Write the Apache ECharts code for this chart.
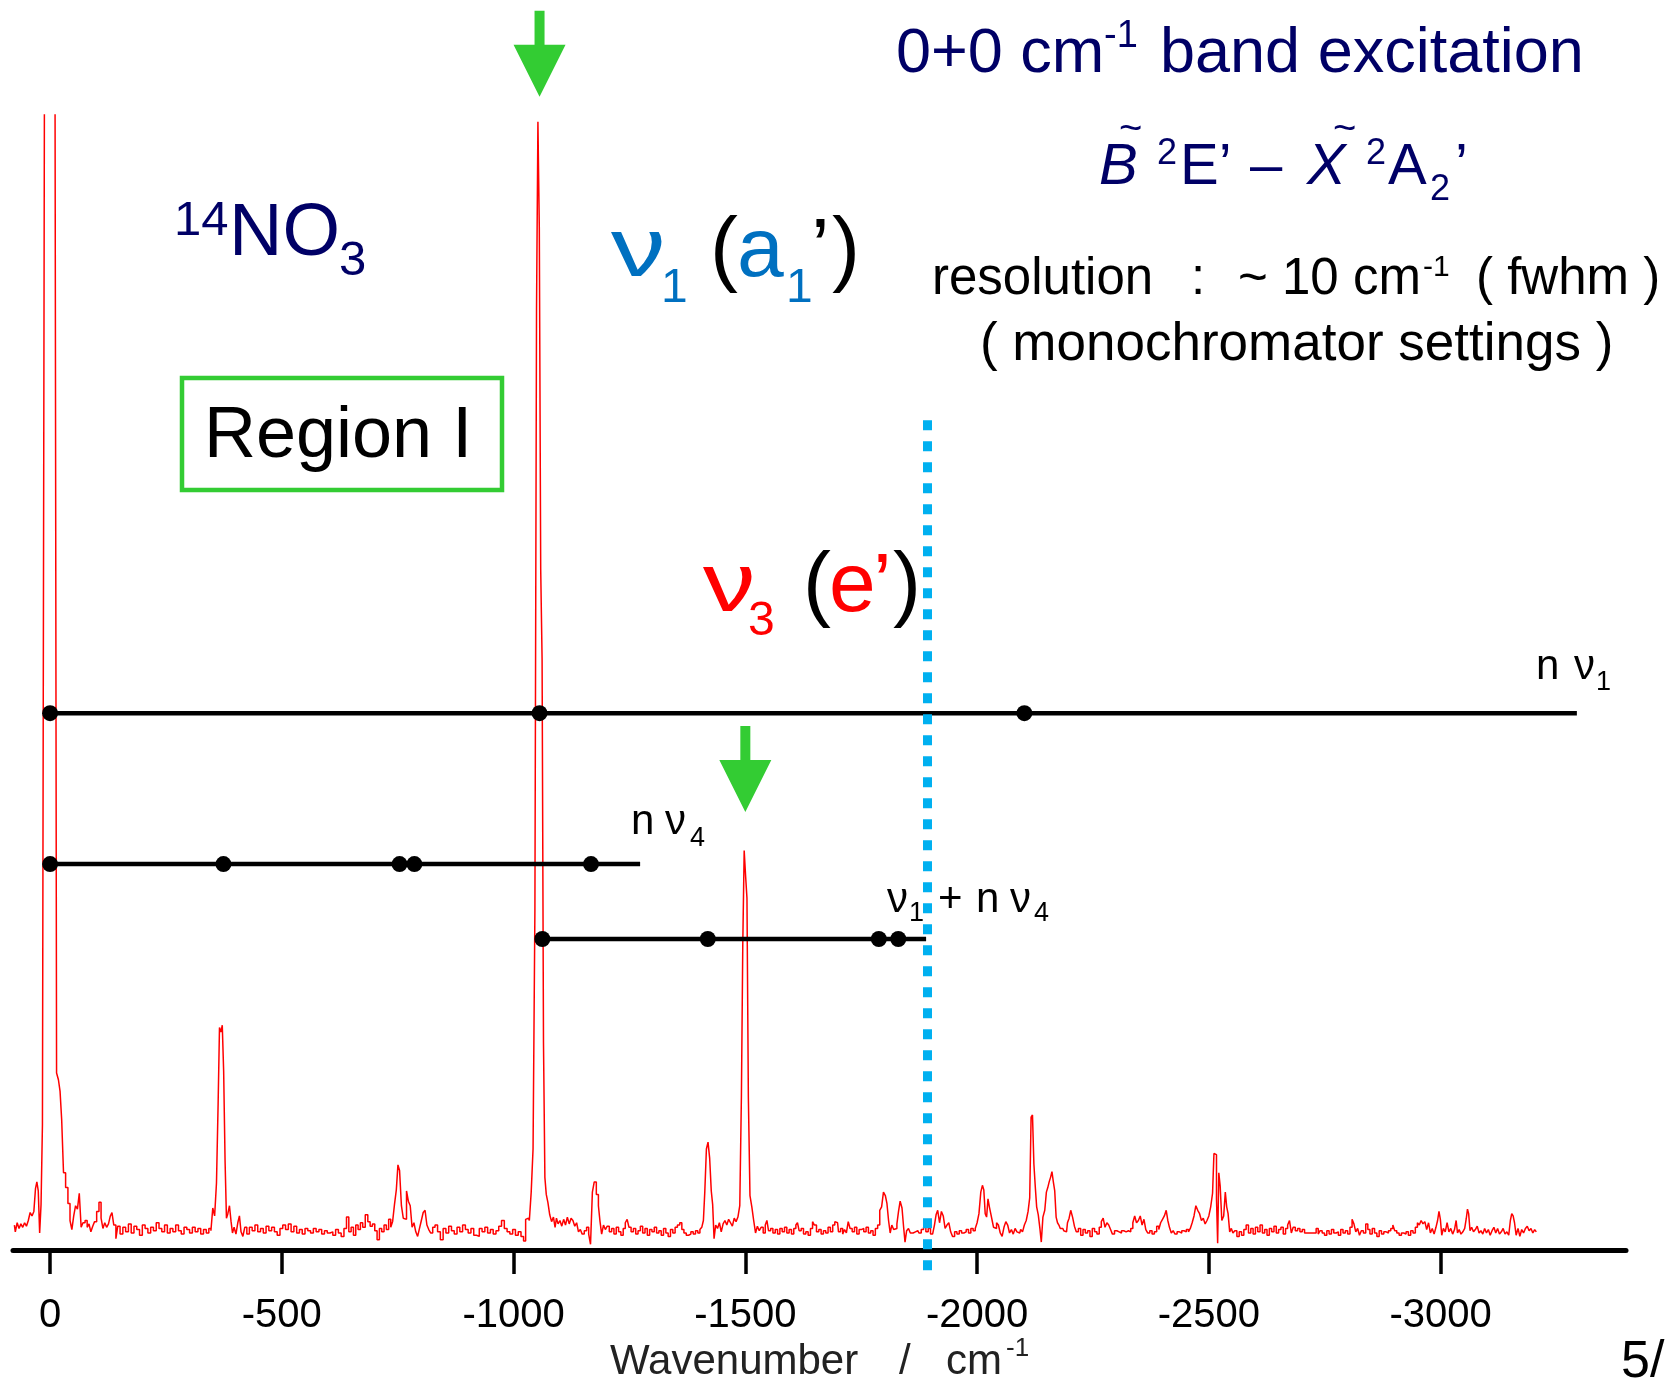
<!DOCTYPE html>
<html>
<head>
<meta charset="utf-8">
<title>NO3 dispersed fluorescence</title>
<script src="https://cdn.jsdelivr.net/npm/echarts@6/dist/echarts.min.js"></script>
<style>
  html, body { margin: 0; padding: 0; background: #fff; }
  #chart { width: 1668px; height: 1384px; }
</style>
</head>
<body>
<div id="chart"></div>
<script>
var FONT = '"Liberation Sans", Arial, sans-serif'
var NAVY = '#000066', BLUE = '#0070c0', RED = '#ff0000', GREEN = '#33cc33', CYAN = '#00b0f0'

// axis ticks (cm-1)
var tickValues = [0, -500, -1000, -1500, -2000, -2500, -3000]

// spectrum, [wavenumber, intensity]
var specOrigin = [[77,2.2],[73,1.6],[69,2.4],[65,1.9],[61,2.3],[57,2.0],[53,2.4],[49,2.1],[45,2.6],[41,3.3],[37,3.0],[33,3.4],[30,5.4],[27,6.0],[24,5.2],[21,1.5],[18,4.0],[15,11.0],[12,74],[8,150],[4,170],[0,175],[-4,170],[-8,150],[-12,120],[-16,15.6],[-20,15.0],[-23,14.0],[-27,11.5],[-31,6.8],[-36,5.5],[-41,4.1],[-45,2.6],[-49,1.8],[-53,3.0],[-57,3.9],[-61,3.6],[-65,5.0],[-69,2.0],[-73,2.4],[-78,2.6],[-82,2.0],[-86,2.3],[-90,1.6],[-94,2.1],[-98,2.5],[-103,3.4],[-108,4.2],[-112,2.8],[-116,1.9],[-120,2.4],[-124,2.0],[-128,2.3],[-132,3.0],[-135,3.3],[-140,2.2],[-144,1.0],[-148,2.1]]
var specLow = [[-154,1.4],[-160,2.0],[-166,1.6],[-172,2.3],[-178,1.5],[-184,2.1],[-190,1.8],[-196,1.3],[-202,2.2],[-208,1.9],[-214,1.5],[-220,2.0],[-226,1.7],[-232,2.4],[-238,1.9],[-244,1.6],[-250,2.2],[-256,1.5],[-262,1.9],[-268,1.6],[-274,2.2],[-280,1.7],[-286,1.4],[-292,2.0],[-298,1.8],[-304,1.5],[-310,2.0],[-316,1.6],[-322,1.9],[-328,1.4],[-334,1.8],[-340,1.5],[-345,1.9],
  [-349,1.7],[-353,3.7],[-357,3.0],[-361,5.9],[-364,12.8],[-367,19.6],[-370,19.2],[-373,19.8],[-376,15.7],[-379,7.9],[-382,2.8],[-385,3.2],[-389,3.9],[-392,2.5],[-395,1.5],[-399,2.0],[-403,1.4],[-407,2.4],[-410,3.0],[-414,1.6],[-418,1.2],[-422,2.0],
  [-427,1.4],[-433,2.0],[-439,1.7],[-445,2.2],[-451,1.6],[-457,1.9],[-463,1.5],[-469,2.1],[-475,1.7],[-481,2.0],[-487,1.6],[-493,1.3],[-499,1.9],[-505,2.2],[-511,1.8],[-517,2.3],[-523,1.6],[-529,2.1],[-535,1.5],[-541,1.8],[-547,1.4],[-553,1.9],[-559,1.7],[-565,1.5],[-571,1.9],[-577,1.6],[-583,1.8],[-589,1.4],[-595,1.7],[-601,1.5],[-607,1.6],[-613,1.3],[-619,1.8],[-625,1.5],[-631,1.2],[-637,1.9]]
var specMid = [[-642,2.9],[-647,1.6],[-652,2.0],[-657,1.3],[-662,2.2],[-667,1.8],[-672,2.4],[-677,2.0],[-683,3.1],[-688,2.5],[-693,2.1],[-698,2.3],[-703,1.7],[-708,0.9],[-713,1.9],[-718,1.6],[-723,2.2],[-728,1.8],[-733,2.7],[-737,2.0],[-741,2.5],[-745,4.0],[-749,5.3],[-752,7.5],[-756,7.0],[-760,3.9],[-764,2.8],[-767,2.7],[-771,5.2],[-775,4.3],[-779,3.9],[-783,2.0],[-787,2.4],[-791,1.6],[-795,1.2],[-799,1.9],[-803,2.6],[-807,3.3],[-811,3.5],[-815,2.2],[-819,1.8],[-823,1.5],[-828,2.0],
  [-833,2.2],[-839,1.6],[-845,0.9],[-851,1.9],[-857,1.5],[-863,2.1],[-869,1.7],[-875,1.4],[-881,2.0],[-887,1.6],[-893,2.2],[-899,1.8],[-905,1.5],[-911,1.9],[-917,1.3],[-923,1.2],[-929,1.9],[-935,1.6],[-941,2.0],[-947,1.5],[-953,1.8],[-959,1.4],[-965,1.7],[-971,2.1],[-977,2.6],[-983,1.9],[-989,1.6],[-995,1.4],[-1001,1.8],[-1007,1.3],[-1013,1.6],[-1019,1.2],[-1024,0.8]]
var specNu1 = [[-1028,2.7],[-1032,2.8],[-1036,2.6],[-1040,5.1],[-1044,8.9],[-1048,30],[-1051,83],[-1054,99.4],[-1057,90],[-1060,60],[-1063,52],[-1066,18.3],[-1069,6.4],[-1072,4.9],[-1076,4.2],[-1080,3.1],[-1084,2.5],[-1088,2.9],[-1091,2.0],[-1094,2.8],[-1098,2.3],[-1102,2.6],[-1106,2.1],[-1110,2.7],[-1114,2.2],[-1118,2.9],[-1122,2.3],[-1126,2.8],[-1130,2.6],[-1134,2.1],[-1138,2.4],[-1142,1.6],[-1146,1.8],[-1150,1.4],[-1155,1.7],[-1160,2.0],[-1164,1.4],[-1168,0.5],[-1172,5.1],[-1176,6.0],[-1181,4.9],[-1185,3.9],[-1188,2.5],[-1192,1.4],[-1196,2.2],[-1200,1.8],[-1204,2.1],[-1209,1.6],[-1214,1.9],[-1219,1.4],[-1224,2.0],[-1229,1.6],[-1234,1.3],[-1239,1.9],[-1243,2.4],[-1247,2.7],[-1251,2.0],[-1256,1.6],[-1261,1.9],[-1266,1.4],
  [-1271,1.7],[-1276,2.1],[-1281,1.5],[-1286,1.9],[-1291,1.3],[-1296,1.8],[-1301,1.6],[-1306,2.0],[-1311,1.5],[-1316,1.7],[-1321,1.3],[-1326,1.9],[-1331,1.5],[-1336,1.2],[-1341,1.8],[-1346,1.5],[-1351,2.0],[-1356,2.2],[-1361,2.4],[-1365,1.8],[-1370,1.5],[-1375,1.3],[-1380,1.4],[-1385,1.6],[-1390,1.4],[-1395,1.7],[-1400,1.5],[-1404,1.8],[-1408,2.0],[-1411,2.6],[-1414,5.1],[-1418,8.9],[-1421,9.5],[-1425,8.1],[-1428,5.2],[-1431,4.0],[-1434,1.0],[-1438,2.2],[-1442,1.9],[-1446,2.4],[-1450,1.6],[-1454,2.3],[-1458,2.6],[-1462,2.2],[-1466,2.7],[-1470,2.4],[-1474,2.1],[-1478,2.8],[-1482,2.5],[-1486,2.9]]
var specNu3 = [[-1490,3.9],[-1493,13.5],[-1496,27],[-1499,35.2],[-1502,33],[-1505,31],[-1508,13.5],[-1512,4.8],[-1516,3.8],[-1520,2.6],[-1524,1.5],[-1528,2.1],[-1532,1.7],[-1536,2.0],[-1541,1.5],[-1545,2.2],[-1548,2.6],[-1552,1.7],[-1557,1.9],[-1562,1.5],[-1567,1.8],[-1572,1.4],[-1577,1.9],[-1582,1.6],[-1587,2.0],[-1592,1.5],[-1597,1.8],[-1602,1.4],[-1607,1.9],[-1611,2.2],[-1614,2.4],[-1618,1.7],[-1623,1.9],[-1628,1.4],[-1633,1.6],[-1638,1.3],[-1643,1.9],[-1647,2.5],[-1651,2.2],[-1656,1.6],[-1661,1.8],[-1666,1.4],[-1671,1.7],[-1676,1.5],[-1681,2.0],[-1686,1.6],[-1691,2.2],[-1695,2.5],[-1699,2.4],[-1703,1.6],[-1708,1.9],[-1712,1.4],[-1716,1.8],[-1720,1.5],[-1724,2.5],[-1728,1.9],[-1733,1.6],[-1738,2.0],[-1743,1.4],[-1748,1.8],[-1753,1.9],[-1758,1.6],[-1763,2.0],[-1768,1.5],[-1773,1.7],[-1778,1.3],[-1783,1.9],[-1788,2.2],[-1792,3.5],[-1796,3.8],[-1800,5.1],[-1804,4.8],[-1807,4.1],[-1811,2.6],[-1814,1.5],[-1818,2.2],[-1822,1.8],[-1825,1.9],[-1829,2.3],[-1832,3.4],[-1836,4.3],[-1840,3.7],[-1843,2.0],[-1846,0.7],[-1850,1.7],[-1854,1.9],[-1858,1.5],[-1862,1.5],[-1867,1.6],[-1872,1.7],[-1877,1.5],[-1882,1.8],[-1887,2.0],[-1892,1.6],[-1897,1.9],[-1902,1.4],[-1906,1.3],[-1910,2.2],[-1913,3.1],[-1917,3.5],[-1921,2.4],[-1925,3.4],[-1929,3.0],[-1933,1.9],[-1937,2.2],[-1941,2.4],[-1945,1.6],[-1949,1.2],[-1954,1.6],[-1959,1.4],[-1964,1.7],[-1969,1.5],[-1974,1.6],[-1979,1.8],[-1984,1.5],[-1989,1.9],[-1994,1.7],[-1998,1.9]]
var specHigh = [[-2002,2.4],[-2006,3.2],[-2010,5.1],[-2013,5.7],[-2016,5.3],[-2019,3.2],[-2022,2.9],[-2025,4.5],[-2028,3.8],[-2031,3.2],[-2034,2.6],[-2037,2.0],[-2040,1.9],[-2044,2.4],[-2048,2.2],[-2052,1.5],[-2056,1.2],[-2060,2.0],[-2064,2.5],[-2068,2.2],[-2072,1.5],[-2076,1.8],[-2080,1.4],[-2084,1.9],[-2088,1.6],[-2092,1.5],[-2096,1.8],[-2100,1.6],[-2104,2.2],[-2108,2.6],[-2112,3.4],[-2115,4.6],[-2118,11.7],[-2121,11.9],[-2124,7.6],[-2127,5.6],[-2130,3.8],[-2134,3.1],[-2137,1.9],[-2140,0.7],[-2144,2.9],[-2148,3.5],[-2151,5.1],[-2154,5.5],[-2157,6.0],[-2160,6.4],[-2163,6.9],[-2166,6.0],[-2169,5.2],[-2172,2.9],[-2175,2.4],[-2178,2.2],[-2181,1.9],[-2185,1.9],[-2189,1.7],[-2193,1.6],[-2197,2.4],[-2200,2.8],[-2204,3.5],[-2208,2.9],[-2212,2.1],[-2216,1.6],[-2221,1.9],[-2226,1.3],[-2231,1.8],[-2236,1.5],[-2241,1.7],[-2246,1.2],[-2251,1.9],[-2256,1.6],[-2261,1.4],[-2266,2.0],[-2270,2.5],[-2274,2.8],[-2278,2.0],[-2282,2.4],[-2286,2.2],[-2290,1.8],[-2294,1.4],[-2299,1.7],[-2304,1.6],[-2309,1.5],[-2314,1.7],[-2319,1.6],[-2324,1.7],[-2329,1.6],[-2334,1.9],[-2338,2.4],[-2342,3.0],[-2346,2.4],[-2350,2.6],[-2354,3.0],[-2358,2.2],[-2362,2.7],[-2366,1.8],[-2370,1.5],[-2375,1.7],[-2380,1.4],[-2385,1.6],[-2390,2.1],[-2394,1.8],[-2398,2.4],[-2402,2.7],[-2406,3.0],[-2410,3.5],[-2413,2.6],[-2417,2.0],[-2421,1.5],[-2425,1.7],[-2429,1.4],[-2434,1.6],[-2439,1.5],[-2444,1.7],[-2449,1.6],[-2454,1.8],[-2458,1.6],[-2462,1.9],[-2466,2.4],[-2470,3.0],[-2474,3.9],[-2478,3.5],[-2482,3.2],[-2486,2.6],[-2490,2.8],[-2494,2.3],[-2498,2.6],[-2502,3.0],[-2506,3.8],[-2510,5.0],[-2512,8.5],[-2515,8.4],[-2518,4.5],[-2520,0.6],[-2523,6.8],[-2526,5.6],[-2530,2.6],[-2534,3.0],[-2537,5.1],[-2540,3.8],[-2543,3.2],[-2547,1.6],[-2550,1.9],[-2554,1.5],[-2558,1.7],[-2563,1.2],[-2568,1.6],[-2573,1.3],[-2578,1.8],[-2583,2.2]]
var specTail = [[-2588,1.5],[-2593,1.9],[-2598,1.4],[-2603,2.0],[-2608,1.6],[-2613,2.2],[-2618,1.5],[-2623,1.8],[-2628,1.3],[-2633,1.9],[-2638,1.6],[-2643,2.1],[-2648,1.5],[-2653,1.8],[-2658,2.0],[-2663,1.4],[-2668,1.9],[-2672,2.2],[-2676,2.6],[-2680,1.5],[-2684,2.0],[-2689,1.7],[-2694,1.9],[-2699,1.6],[-2704,1.8],[-2709,1.5],[-2714,1.5],[-2719,1.5],[-2724,1.5],[-2729,1.5],[-2734,1.9],[-2738,1.4],[-2742,1.7],[-2747,1.5],[-2752,1.3],[-2757,1.7],[-2762,1.4],[-2767,1.8],[-2772,1.5],[-2777,1.6],[-2782,1.3],[-2787,1.8],[-2792,1.5],[-2797,1.7],[-2802,1.4],[-2807,2.0],[-2811,2.7],[-2815,2.3],[-2819,1.6],[-2823,1.9],[-2827,1.3],[-2831,1.7],[-2836,1.5],[-2841,2.3],[-2845,1.8],[-2850,1.4],[-2855,1.9],[-2860,1.5],[-2865,1.2],[-2870,1.7],[-2875,1.4],[-2880,1.6],[-2885,1.5],[-2890,1.7],[-2895,1.9],[-2899,2.2],[-2903,1.7],[-2908,1.5],[-2913,1.3],[-2918,1.5],[-2923,1.4],[-2928,1.6],[-2933,1.3],[-2938,1.7],[-2943,1.5],[-2948,2.0],[-2952,2.4],[-2956,2.2],[-2960,2.6],[-2964,2.3],[-2968,2.5],[-2972,1.8],[-2976,2.4],[-2980,1.5],[-2984,1.9],[-2988,1.4],[-2992,2.0],[-2995,2.6],[-2998,3.4],[-3001,2.7],[-3004,1.3],[-3008,1.9],[-3012,1.6],[-3016,2.4],[-3020,1.6],[-3024,1.9],[-3028,1.4],[-3032,1.8],[-3035,2.6],[-3038,1.5],[-3042,1.8],[-3046,1.4],[-3050,1.6],[-3054,1.9],[-3057,2.8],[-3059,3.6],[-3062,3.2],[-3065,1.7],[-3069,2.0],[-3073,1.6],[-3077,1.8],[-3081,2.1],[-3085,1.5],[-3089,1.7],[-3093,1.4],[-3097,1.9],[-3101,1.5],[-3105,1.8],[-3109,1.3],[-3113,1.7],[-3117,2.0],[-3121,1.5],[-3125,1.9],[-3129,1.4],[-3133,1.6],[-3137,1.9],[-3141,1.4],[-3145,1.6],[-3149,1.3],[-3152,2.6],[-3155,3.2],[-3158,3.0],[-3161,2.4],[-3165,1.3],[-3169,1.9],[-3173,1.2],[-3177,1.8],[-3181,1.5],[-3185,1.9],[-3189,2.1],[-3193,1.7],[-3197,1.9],[-3201,1.5],[-3205,1.8],[-3208,1.6]]

var spectrum = [].concat(specOrigin, specLow, specMid, specNu1, specNu3, specHigh, specTail)

// vibrational progressions: dot positions, end of the bar, height on the intensity scale
var nu1Dots = [0, -1056, -2102], nu1End = -3294, nu1Level = 47.3
var nu4Dots = [0, -374, -754, -786, -1167], nu4End = -1273, nu4Level = 34.0
var comboDots = [-1062, -1419, -1788, -1830], comboEnd = -1890, comboLevel = 27.4

// excitation energy limit (dotted line) and the two arrows
var limitWave = -1893, limitSpan = [73.1, -2.2]
var arrowWaves = [-1056, -1500], arrowTips = [101.6, 38.6]

function progression(dots, end, level) {
  var data = dots.map(function (w) { return [w, level] })
  data.push({ value: [end, level], symbol: 'none' })
  return {
    type: 'line', data: data, symbol: 'circle', symbolSize: 16,
    lineStyle: { color: '#000', width: 4.5 }, itemStyle: { color: '#000' },
    z: 4, silent: true
  }
}

// text placed by its baseline
function txt(s, x, base, size, color, italic, sx) {
  return {
    type: 'text', x: x, y: base - size * 0.3465, z: 10, silent: true,
    scaleX: sx || 1,
    style: {
      text: s, fill: color || '#000',
      font: (italic ? 'italic ' : '') + size + 'px ' + FONT,
      align: 'left', verticalAlign: 'middle', textAlign: 'left', textVerticalAlign: 'middle'
    }
  }
}

var chart = echarts.init(document.getElementById('chart'))

var option = {
  animation: false,
  backgroundColor: '#fff',
  grid: { left: 13, right: 42, top: 115, bottom: 134, containLabel: false },
  xAxis: {
    type: 'value', min: -3400, max: 80, inverse: true,
    axisLine: { show: true, onZero: false, lineStyle: { color: '#000', width: 5 } },
    axisTick: { show: true, customValues: tickValues, length: 24, lineStyle: { color: '#000', width: 3.5 } },
    axisLabel: {
      show: true, customValues: tickValues, margin: 46, fontSize: 40, color: '#000', fontFamily: FONT,
      formatter: function (v) { return String(v) }
    },
    splitLine: { show: false }
  },
  yAxis: { type: 'value', min: 0, max: 100, show: false },
  series: [
    {
      type: 'line', data: spectrum, step: 'middle', showSymbol: false, symbol: 'none',
      lineStyle: { color: RED, width: 1.5 }, clip: true, z: 2, silent: true
    },
    {
      type: 'line', data: [[limitWave, limitSpan[0]], [limitWave, limitSpan[1]]],
      symbol: 'none', clip: false, z: 6, silent: true,
      lineStyle: { color: CYAN, width: 9, type: [10, 11], cap: 'butt' }
    },
    progression(nu1Dots, nu1End, nu1Level),
    progression(nu4Dots, nu4End, nu4Level),
    progression(comboDots, comboEnd, comboLevel)
  ]
}
chart.setOption(option)

var graphics = []

arrowWaves.forEach(function (w, i) {
  var p = chart.convertToPixel({ gridIndex: 0 }, [w, arrowTips[i]])
  var tx = p[0], ty = p[1]
  graphics.push({
    type: 'polygon', z: 8, silent: true,
    shape: { points: [[tx - 5, ty - 86], [tx + 5, ty - 86], [tx + 5, ty - 52], [tx + 26, ty - 52], [tx, ty], [tx - 26, ty - 52], [tx - 5, ty - 52]] },
    style: { fill: GREEN }
  })
})

graphics.push({
  type: 'rect', z: 8, silent: true,
  shape: { x: 182, y: 378, width: 320, height: 112 },
  style: { fill: 'transparent', stroke: GREEN, lineWidth: 4.5 }
})

graphics.push(
  // title block
  txt('0+0 cm', 896, 76, 63, NAVY), txt('-1', 1104, 50, 38, NAVY), txt('band excitation', 1160, 76, 63, NAVY),
  txt('~', 1119, 144, 40, NAVY), txt('B', 1099, 188, 58, NAVY, true), txt('2', 1157, 167, 36, NAVY),
  txt('E\u2019', 1180, 188, 58, NAVY), txt('\u2013', 1250, 188, 58, NAVY),
  txt('~', 1333, 144, 40, NAVY), txt('X', 1307, 188, 58, NAVY, true), txt('2', 1366, 167, 36, NAVY),
  txt('A', 1388, 188, 58, NAVY), txt('2', 1430, 203, 36, NAVY), txt('\u2019', 1455, 188, 58, NAVY),
  txt('resolution', 932, 298, 51), txt(':', 1191, 298, 51), txt('~', 1238, 298, 51),
  txt('10 cm', 1282, 298, 51), txt('-1', 1423, 278, 30), txt('( fwhm )', 1476, 298, 51),
  txt('( monochromator settings )', 980, 364, 53),
  // molecule and region
  txt('14', 174, 238, 49, NAVY), txt('NO', 229, 260, 74, NAVY), txt('3', 339, 278, 49, NAVY),
  txt('Region I', 204, 462, 72, '#000'),
  // mode labels
  txt('\u03bd', 611, 282, 84, BLUE, false, 1.3), txt('1', 661, 305, 48, BLUE), txt('(', 710, 282, 84, '#000'),
  txt('a', 737, 282, 84, BLUE), txt('1', 786, 305, 48, BLUE), txt('\u2019', 811, 282, 84, '#000'), txt(')', 832, 282, 84, '#000'),
  txt('\u03bd', 703, 617, 84, RED, false, 1.25), txt('3', 748, 638, 48, RED), txt('(', 803, 617, 84, '#000'),
  txt('e', 829, 617, 84, RED), txt('\u2019', 873, 617, 84, RED), txt(')', 893, 617, 84, '#000'),
  // progression labels
  txt('n', 1536, 682, 42), txt('\u03bd', 1574, 682, 42), txt('1', 1596, 692, 27),
  txt('n', 631, 837, 42), txt('\u03bd', 665, 837, 42), txt('4', 690, 848, 27),
  txt('\u03bd', 887, 915, 42), txt('1', 909, 923, 27), txt('+', 938, 915, 42),
  txt('n', 976, 915, 42), txt('\u03bd', 1010, 915, 42), txt('4', 1034, 923, 27),
  // axis title and page number
  txt('Wavenumber', 610, 1377, 42, '#222'), txt('/', 899, 1377, 42, '#222'),
  txt('cm', 946, 1377, 42, '#222'), txt('-1', 1006, 1358, 26, '#222'),
  txt('5/', 1621, 1381, 52)
)

chart.setOption({ graphic: graphics })
</script>
</body>
</html>
